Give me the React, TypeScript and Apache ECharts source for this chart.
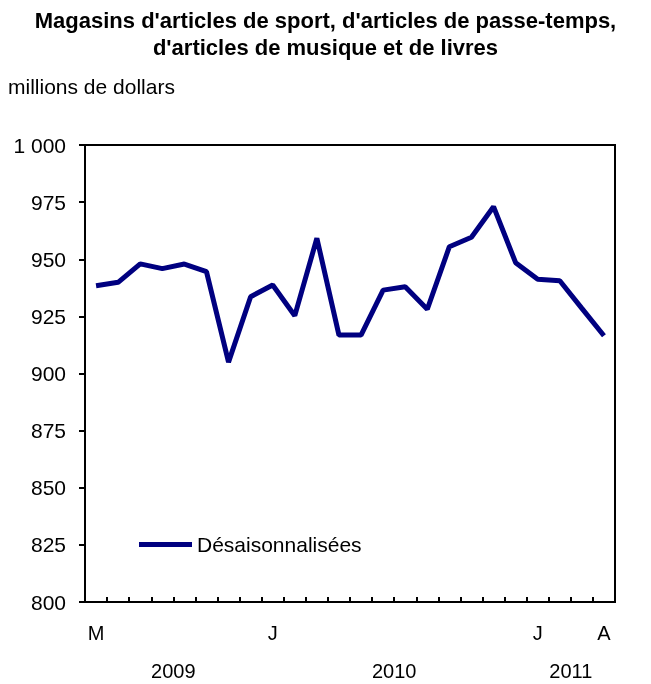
import React, { useEffect, useRef } from "react";
import * as echarts from "echarts";

const months = ["M","J","J","A","S","O","N","D","J","F","M","A","M","J","J","A","S","O","N","D","J","F","M","A"];
const shownMonthLabels: Record<number, string> = { 0: "M", 8: "J", 20: "J", 23: "A" };
const values = [938.4, 939.9, 948.0, 945.9, 947.9, 944.6, 905.0, 933.6, 938.7, 925.3, 959.2, 916.8, 916.8, 936.5, 938.0, 928.1, 955.5, 959.6, 973.0, 948.5, 941.2, 940.6, 928.5, 916.5];
const yearLabels: Record<number, string> = { 4: "2009", 14: "2010", 22: "2011" };
const yTicks = { min: 800, max: 1000, interval: 25 };

const FONT = "Liberation Sans, Arial, sans-serif";

export default function App() {
  const ref = useRef<HTMLDivElement>(null);
  useEffect(() => {
    if (!ref.current) return;
    const chart = echarts.init(ref.current, null, { renderer: "svg" });
    chart.setOption({
      animation: false,
      textStyle: { fontFamily: FONT },
      title: {
        text: "Magasins d'articles de sport, d'articles de passe-temps,\nd'articles de musique et de livres",
        left: "center",
        top: 2,
        textStyle: { fontFamily: FONT, fontSize: 22, fontWeight: "bold", color: "#000", lineHeight: 27 },
      },
      graphic: [
        {
          type: "text",
          left: 8,
          top: 76,
          style: { text: "millions de dollars", fontFamily: FONT, fontSize: 21, fill: "#000" },
        },
      ],
      legend: {
        left: 134,
        top: 529,
        icon: "rect",
        itemWidth: 53,
        itemHeight: 5,
        itemGap: 6,
        textStyle: { fontFamily: FONT, fontSize: 21, color: "#000" },
        data: ["Désaisonnalisées"],
      },
      grid: {
        left: 85,
        right: 36,
        top: 145,
        bottom: 82,
        show: true,
        borderColor: "#000",
        borderWidth: 2,
        backgroundColor: "transparent",
      },
      xAxis: [
        {
          type: "category",
          data: months,
          boundaryGap: true,
          axisLine: { show: true, lineStyle: { color: "#000", width: 2 } },
          axisTick: { show: true, inside: true, length: 5, interval: 0, lineStyle: { color: "#000", width: 2 } },
          axisLabel: {
            interval: 0,
            margin: 21,
            fontSize: 20,
            color: "#000",
            fontFamily: FONT,
            formatter: (_v: string, i: number) => shownMonthLabels[i] ?? "",
          },
          splitLine: { show: false },
        },
        {
          type: "value",
          position: "bottom",
          min: 0,
          max: months.length,
          interval: 1,
          axisLine: { show: false },
          axisTick: { show: false },
          splitLine: { show: false },
          axisLabel: {
            margin: 59,
            fontSize: 20,
            color: "#000",
            fontFamily: FONT,
            showMinLabel: true,
            showMaxLabel: true,
            hideOverlap: false,
            formatter: (v: number) => yearLabels[v] ?? "",
          },
        },
      ],
      yAxis: {
        type: "value",
        min: yTicks.min,
        max: yTicks.max,
        interval: yTicks.interval,
        axisLine: { show: true, lineStyle: { color: "#000", width: 2 } },
        axisTick: { show: true, length: 6, lineStyle: { color: "#000", width: 2 } },
        axisLabel: {
          margin: 19,
          fontSize: 21,
          color: "#000",
          fontFamily: FONT,
          formatter: (v: number) => String(v).replace(/\B(?=(\d{3})+(?!\d))/g, " "),
        },
        splitLine: { show: false },
      },
      series: [
        {
          name: "Désaisonnalisées",
          type: "line",
          data: values,
          xAxisIndex: 0,
          symbol: "none",
          lineStyle: { color: "#000080", width: 5 },
          itemStyle: { color: "#000080" },
        },
      ],
    });
    return () => chart.dispose();
  }, []);
  return <div ref={ref} style={{ position: "fixed", left: 0, top: 0, width: 651, height: 684 }} />;
}
